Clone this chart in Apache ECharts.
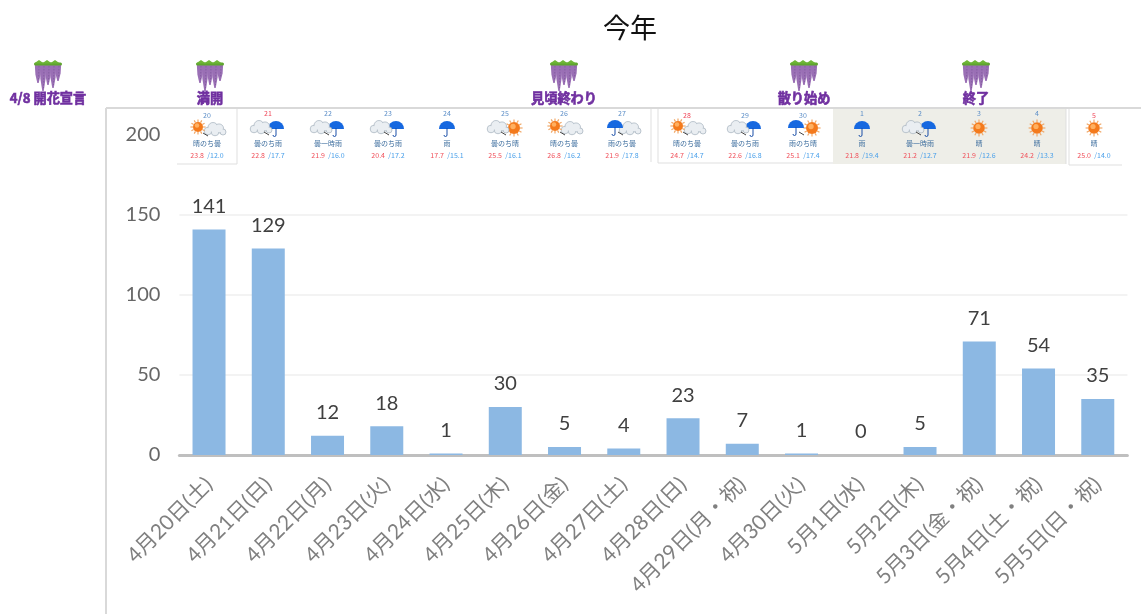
<!DOCTYPE html>
<html><head><meta charset="utf-8">
<style>html,body{margin:0;padding:0;background:#fff}#c{width:1141px;height:614px}</style>
<script src="https://cdn.jsdelivr.net/npm/echarts@6/dist/echarts.min.js"></script>
</head><body><div id="c"></div>
<script>
const categories = ['4月20日(土)','4月21日(日)','4月22日(月)','4月23日(火)','4月24日(水)','4月25日(木)','4月26日(金)','4月27日(土)','4月28日(日)','4月29日(月・祝)','4月30日(火)','5月1日(水)','5月2日(木)','5月3日(金・祝)','5月4日(土・祝)','5月5日(日・祝)'];
const visitors = [141,129,12,18,1,30,5,4,23,7,1,0,5,71,54,35];
const weatherDays = ['20','21','22','23','24','25','26','27','28','29','30','1','2','3','4','5'];
const weatherText = ['晴のち曇','曇のち雨','曇一時雨','曇のち雨','雨','曇のち晴','晴のち曇','雨のち曇','晴のち曇','曇のち雨','雨のち晴','雨','曇一時雨','晴','晴','晴'];
const weatherHigh = ['23.8','22.8','21.9','20.4','17.7','25.5','26.8','21.9','24.7','22.6','25.1','21.8','21.2','21.9','24.2','25.0'];
const weatherLow = ['12.0','17.7','16.0','17.2','15.1','16.1','16.2','17.8','14.7','16.8','17.4','19.4','12.7','12.6','13.3','14.0'];
const stageLabels = ['4/8 開花宣言','満開','見頃終わり','散り始め','終了'];

const stageX = [48,210,564,804,976];
const cardX = [207,268,328,388,447,505,564,622,687,745,803,862,920,979,1037,1094];
const dayRed = {'21':1,'28':1,'5':1};
const FONT = '"Noto Sans CJK JP","Noto Sans",sans-serif';
const LATIN = 'Lato,"Noto Sans CJK JP",sans-serif';
const Z = 10;

function sun(x,y,r){
  const rays=[];
  for(let i=0;i<12;i++){const a=i*Math.PI/6;
    rays.push({type:'line',z:Z,shape:{x1:x+Math.cos(a)*r,y1:y+Math.sin(a)*r,x2:x+Math.cos(a)*(r+2.6),y2:y+Math.sin(a)*(r+2.6)},style:{stroke:'#f0a868',lineWidth:1.2}});}
  return rays.concat([{type:'circle',z:Z,shape:{cx:x,cy:y,r:r},style:{fill:'#f47a1c'}},
    {type:'circle',z:Z,shape:{cx:x-1,cy:y-1.5,r:r*0.45},style:{fill:'#ffb060'}}]);
}
function cloud(x,y){
  const c=[[-7,2,3.8],[-2,-1.5,5],[4,-0.5,4.6],[8,3,3],[0,3,3.8]];
  return c.map(p=>({type:'circle',z:Z,shape:{cx:x+p[0],cy:y+p[1],r:p[2]},style:{fill:'#dfe5ea',stroke:'#a8b3be',lineWidth:0.7}}))
   .concat(c.map(p=>({type:'circle',z:Z,shape:{cx:x+p[0],cy:y+p[1],r:Math.max(p[2]-0.8,0.5)},style:{fill:'#eaeef2'}})));
}
function umbrella(x,y){
  return [{type:'sector',z:Z,shape:{cx:x,cy:y+1,r:8,r0:0,startAngle:Math.PI,endAngle:2*Math.PI},style:{fill:'#1668e0'}},
   {type:'line',z:Z,shape:{x1:x,y1:y,x2:x,y2:y+7},style:{stroke:'#1a4fa8',lineWidth:1}},
   {type:'arc',z:Z,shape:{cx:x-1.5,cy:y+7,r:1.5,startAngle:0,endAngle:Math.PI},style:{stroke:'#1a4fa8',lineWidth:1,fill:'none'}}];
}
function icon(kind,x,y){
  const sub=s=>s==='晴'?sun:s==='曇'?cloud:umbrella;
  if(kind.length===1) return sub(kind)(x,y,kind==='晴'?5.8:undefined);
  const a=kind[0], b=kind[kind.length-1];
  const first=a==='晴'?sun(x-9,y-2,5):sub(a)(x-7,y-1);
  const second=b==='晴'?sun(x+9,y,6):sub(b)(x+8,y);
  const arrow=[{type:'line',z:Z,shape:{x1:x-4,y1:y+4,x2:x+1,y2:y+7},style:{stroke:'#444',lineWidth:1}}];
  return second.concat(first,arrow);
}
function wisteria(x){
  const els=[];
  [[-10,19],[-5,27],[0,21],[5,24],[10,17]].forEach(s=>{
    const w=3.2, t=64, b=t+s[1], c=x+s[0];
    els.push({type:'polygon',z:Z,shape:{points:[[c-w,t],[c+w,t],[c+w-0.6,t+s[1]*0.55],[c+0.7,b],[c-0.7,b],[c-w+0.6,t+s[1]*0.55]]},style:{fill:'#9a6fb5'}});
    els.push({type:'line',z:Z,shape:{x1:c+1,y1:66,x2:c+0.5,y2:b-3},style:{stroke:'#7f5a9c',lineWidth:0.8,lineDash:[1.5,1.5]}});
  });
  els.push({type:'rect',z:Z,shape:{x:x-14,y:62.5,width:28,height:3,r:1.5},style:{fill:'#5fa52e'}});
  [-9,-1,7].forEach(d=>els.push({type:'polygon',z:Z,shape:{points:[[x+d-5,63.5],[x+d,60],[x+d+5,63.5]]},style:{fill:'#6eb536'}}));
  return els;
}

const graphics=[];
graphics.push({type:'rect',z:Z,shape:{x:177,y:109,width:964,height:56},style:{fill:'#fff'}});
graphics.push({type:'rect',z:Z,shape:{x:833,y:109,width:233,height:55},style:{fill:'#eeeee8'}});
[[237,109,237,164],[177,164,237,164],[651,109,651,162],[658,109,658,163],[658,163,833,163],[1066,109,1066,164],[1069,109,1069,165],[1069,165,1122,165]].forEach(l=>{
  graphics.push({type:'line',z:Z,shape:{x1:l[0],y1:l[1],x2:l[2],y2:l[3]},style:{stroke:'#dfdfdf',lineWidth:1}});
});
graphics.push({type:'line',z:Z+1,shape:{x1:106,y1:108,x2:1141,y2:108},style:{stroke:'#d9d9d9',lineWidth:2}});
graphics.push({type:'line',z:Z+1,shape:{x1:106,y1:108,x2:106,y2:614},style:{stroke:'#d9d9d9',lineWidth:2}});

weatherDays.forEach((d,i)=>{
  const x=cardX[i];
  const base=(i===0||i>=8&&i<=10||i===15)?2:0;
  graphics.push({type:'text',z:Z+1,style:{x:x,y:113+base,text:d,align:'center',verticalAlign:'middle',font:'7px '+FONT,fill:dayRed[d]?'#f0485a':'#5d8fc8'}});
  graphics.push({type:'group',children:icon(weatherText[i],x,128+(i===0?1:0))});
  graphics.push({type:'text',z:Z+1,style:{x:x,y:143,text:weatherText[i],align:'center',verticalAlign:'middle',font:'7px '+FONT,fill:'#3f6f9f'}});
  graphics.push({type:'text',z:Z+1,style:{x:x,y:155,text:'{h|'+weatherHigh[i]+'} {l|/'+weatherLow[i]+'}',align:'center',verticalAlign:'middle',
     rich:{h:{font:'7px '+FONT,fill:'#f0505a'},l:{font:'7px '+FONT,fill:'#4aa0ea'}}}});
});
stageLabels.forEach((s,i)=>{
  wisteria(stageX[i]).forEach(e=>graphics.push(e));
  graphics.push({type:'text',z:Z+1,style:{x:stageX[i],y:98,text:s,align:'center',verticalAlign:'middle',font:'bold 13.2px '+FONT,fill:'#7030a0',stroke:'#7030a0',lineWidth:0.6}});
});

const chart=echarts.init(document.getElementById('c'),null,{renderer:'canvas'});
chart.setOption({
  animation:false,
  backgroundColor:'#fff',
  title:{text:'今年',left:598,top:9,textStyle:{fontFamily:FONT,fontWeight:'normal',fontSize:27,color:'#111'}},
  grid:{left:179.4,top:135,width:948,height:320,containLabel:false},
  xAxis:{type:'category',data:categories,
    axisLine:{lineStyle:{color:'#bfbfbf',width:3}},axisTick:{show:false},
    axisLabel:{interval:0,rotate:45,margin:26,fontFamily:LATIN,fontSize:21,color:'#808080'}},
  yAxis:{type:'value',min:0,max:200,interval:50,axisLine:{show:false},axisTick:{show:false},
    splitLine:{lineStyle:{color:'#efefef',width:1.5}},
    axisLabel:{margin:19,fontFamily:LATIN,fontSize:20,color:'#666666'}},
  series:[{type:'bar',data:visitors,barWidth:33,itemStyle:{color:'#8cb8e3'},
    label:{show:true,position:'top',distance:13,fontFamily:LATIN,fontSize:20,color:'#404040'}}],
  graphic:{elements:graphics}
});
</script></body></html>
